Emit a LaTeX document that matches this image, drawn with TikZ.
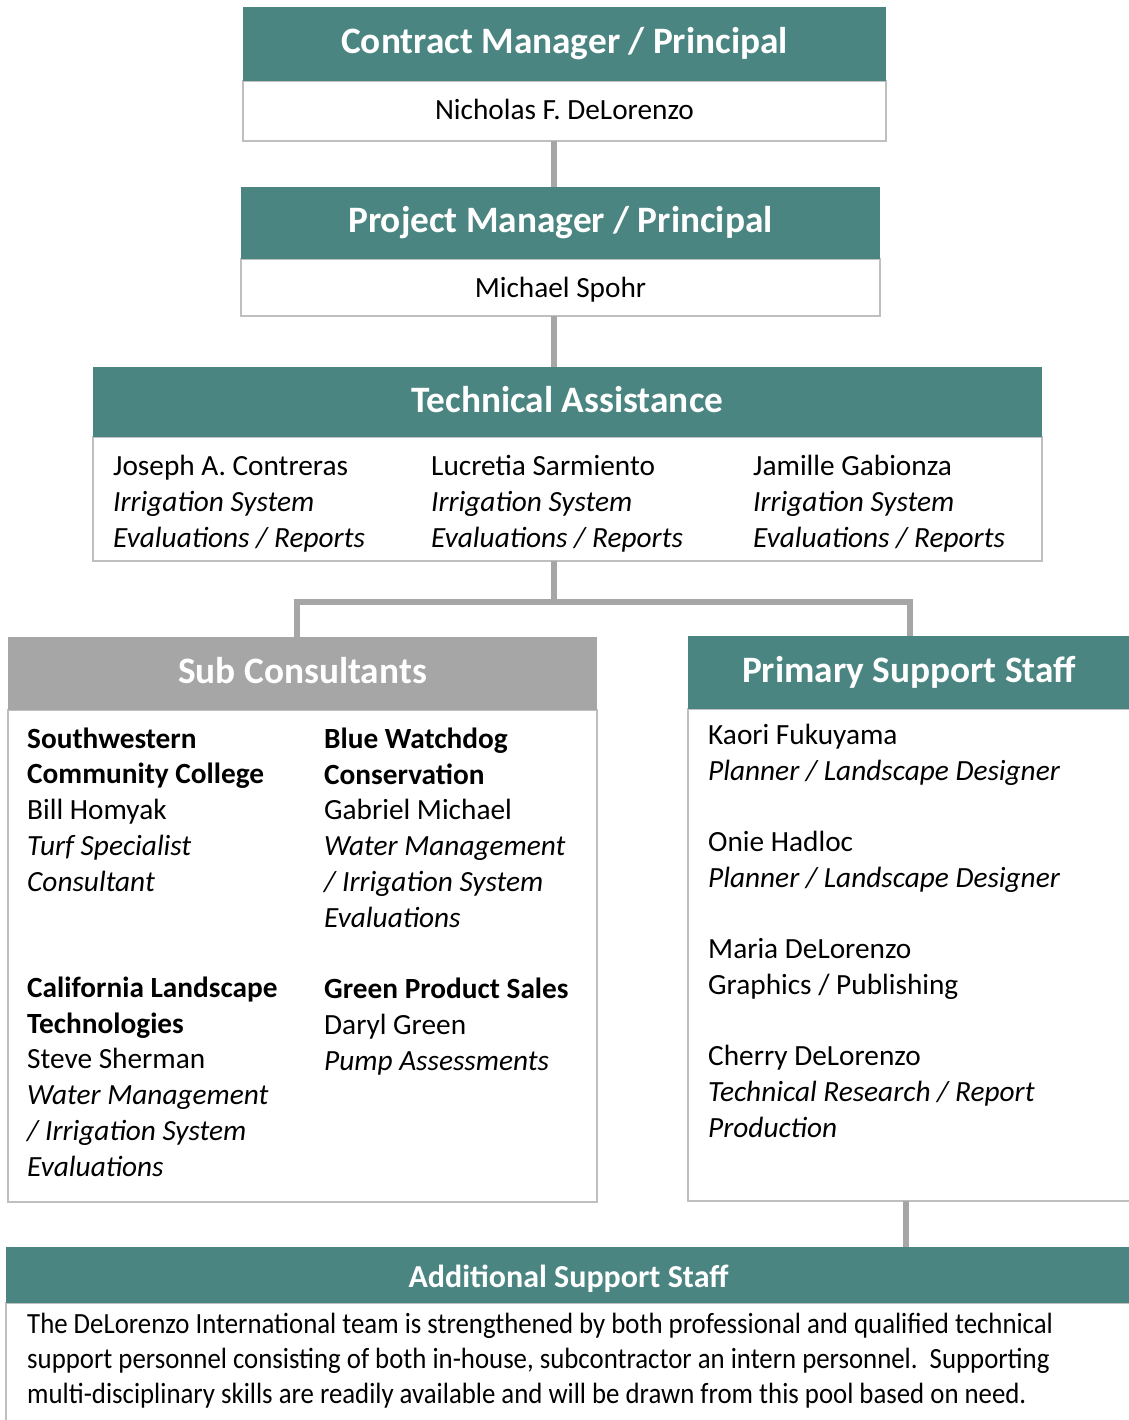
\documentclass[tikz,border=0pt]{standalone}
\usepackage{fontspec}
\setmainfont{Carlito}
\newfontfamily\tightfont[FakeStretch=0.915]{Carlito}
\usetikzlibrary{positioning,calc}
\definecolor{hdrteal}{RGB}{75,133,129}
\definecolor{hdrgray}{RGB}{166,166,166}
\definecolor{boxgray}{RGB}{191,191,191}
\definecolor{linkgray}{RGB}{166,166,166}
\tikzset{hdr/.style={rectangle, fill=hdrteal, text=white, inner sep=0pt, outer sep=0pt,
  anchor=north west, font=\fontsize{37.3}{44}\selectfont\bfseries,
  text height=28pt, text depth=8pt},
subhdr/.style={hdr, fill=hdrgray},
addhdr/.style={hdr, font=\fontsize{32}{38}\selectfont\bfseries,
  text height=25pt, text depth=0pt},
bodybox/.style={rectangle, draw=boxgray, line width=2.5pt, fill=white,
  inner sep=0pt, outer sep=0pt, anchor=north west},
txt/.style={anchor=base west, inner sep=0pt, align=left,
  font=\fontsize{29.3}{35.7}\selectfont},
link/.style={draw=linkgray, line width=5.5pt}}

\begin{document}
\begin{tikzpicture}[x=1pt,y=-1pt]
        \useasboundingbox (0,0) rectangle (1128,1420);
        \coordinate (spine) at (554,0);
        \coordinate (split) at (554,602);
        \coordinate (dropL) at (297,602);
        \coordinate (dropR) at (910,602);
        \coordinate (dropA) at (906,0);

        \node[bodybox, minimum width=643, minimum height=60] (bodyCM) at (243,81) {};
        \node[bodybox, minimum width=639, minimum height=57] (bodyPM) at (241,259) {};
        \node[bodybox, minimum width=949, minimum height=124] (bodyTA) at (93,437) {};
        \node[bodybox, minimum width=589, minimum height=492] (bodySub) at (8,710) {};
        \node[bodybox, minimum width=442, minimum height=492] (bodyPSS) at (688,709) {};
        \node[bodybox, minimum width=1125, minimum height=140] (bodyAdd) at (6,1303) {};

        \node[hdr, minimum width=643, minimum height=74] (hdrCM) at (243,7) {Contract Manager / Principal};
        \node[hdr, minimum width=639, minimum height=72] (hdrPM) at (241,187) {Project Manager / Principal};
        \node[hdr, minimum width=949, minimum height=70] (hdrTA) at (93,367) {Technical Assistance};
        \node[subhdr, minimum width=589, minimum height=73] (hdrSub) at (8,637) {Sub Consultants};
        \node[hdr, minimum width=442, minimum height=73] (hdrPSS) at (688,636) {Primary Support Staff};
        \node[addhdr, minimum width=1125, minimum height=56] (hdrAdd) at (6,1247) {Additional Support Staff};

        \draw[link] (bodyCM.south -| spine) -- (hdrPM.north -| spine);
        \draw[link] (bodyPM.south -| spine) -- (hdrTA.north -| spine);
        \draw[link] (bodyTA.south -| spine) -- (split);
        \draw[link] (hdrSub.north -| dropL) |- (dropR) -- (hdrPSS.north -| dropR);
        \draw[link] (bodyPSS.south -| dropA) -- (hdrAdd.north -| dropA);

        \node[txt, anchor=base] (nameCM) at (564.5,120) {Nicholas F. DeLorenzo};
        \node[txt, anchor=base] (namePM) at (560.5,298) {Michael Spohr};

        \node[txt] (taJoseph) at (113,547) {Joseph A. Contreras\\\textit{Irrigation System}\\\textit{Evaluations / Reports}};
        \node[txt] (taLucretia) at (431,547) {Lucretia Sarmiento\\\textit{Irrigation System}\\\textit{Evaluations / Reports}};
        \node[txt] (taJamille) at (753,547) {Jamille Gabionza\\\textit{Irrigation System}\\\textit{Evaluations / Reports}};

        \node[txt] (subSWC) at (27,891) {\textbf{Southwestern}\\\textbf{Community College}\\Bill Homyak\\\textit{Turf Specialist}\\\textit{Consultant}};
        \node[txt] (subBWC) at (324,927) {\textbf{Blue Watchdog}\\\textbf{Conservation}\\Gabriel Michael\\\textit{Water Management}\\\textit{/ Irrigation System}\\\textit{Evaluations}};
        \node[txt] (subCLT) at (27,1176) {\textbf{California Landscape}\\\textbf{Technologies}\\Steve Sherman\\\textit{Water Management}\\\textit{/ Irrigation System}\\\textit{Evaluations}};
        \node[txt] (subGPS) at (324,1070) {\textbf{Green Product Sales}\\Daryl Green\\\textit{Pump Assessments}};

        \node[txt] (staffPSS) at (708,1137) {Kaori Fukuyama\\\textit{Planner / Landscape Designer}\\[35.7pt]Onie Hadloc\\\textit{Planner / Landscape Designer}\\[35.7pt]Maria DeLorenzo\\Graphics / Publishing\\[35.7pt]Cherry DeLorenzo\\\textit{Technical Research / Report}\\\textit{Production}};

        \node[txt, font=\tightfont\fontsize{29.3}{35}\selectfont] (textAdd) at (27,1403) {The DeLorenzo International team is strengthened by both professional and qualified technical\\support personnel consisting of both in-house, subcontractor an intern personnel.\ \ Supporting\\multi-disciplinary skills are readily available and will be drawn from this pool based on need.};
    \end{tikzpicture}
\end{document}
